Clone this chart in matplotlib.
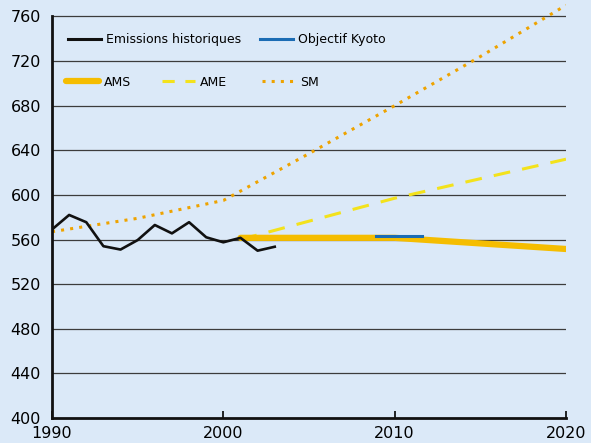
"""
Emissions historiques et projections (AMS / AME / SM) avec l'objectif Kyoto
"""
import matplotlib.pyplot as plt
from matplotlib.lines import Line2D

# donnees
hist_years = [1990, 1991, 1992, 1993, 1994, 1995, 1996, 1997, 1998, 1999,
              2000, 2001, 2002, 2003]
hist_values = [569, 582, 575.5, 554, 551, 559.5, 573, 565.5, 575.5, 562,
               557.5, 561.5, 550, 553.5]

kyoto_years = [2008.9, 2011.6]
kyoto_values = [563, 563]

ams_years = [2001, 2010, 2020]
ams_values = [561.5, 561.5, 551.5]

ame_years = [2001, 2010, 2020]
ame_values = [560, 597, 632]

sm_years = [1990, 1995, 2000, 2005, 2010, 2015, 2020]
sm_values = [567, 579, 595, 637, 680, 724, 770]

y_ticks = [400, 440, 480, 520, 560, 600, 640, 680, 720, 760]
x_ticks = [1990, 2000, 2010, 2020]

BG = '#dbe9f8'
C_HIST = '#111111'
C_KYOTO = '#1b6cb4'
C_AMS = '#f5bd00'
C_AME = '#f3e21c'
C_SM = '#eea300'

W, H = 591, 443
fig = plt.figure(figsize=(W / 100, H / 100), dpi=100, facecolor=BG)
ax = fig.add_axes([52 / W, 25 / H, (566 - 52) / W, (440 - 25) / H])
ax.set_facecolor(BG)

ax.set_xlim(1990, 2020)
ax.set_ylim(400, 772)

for v in y_ticks[1:]:
    ax.axhline(v, color='#3c3c3c', lw=0.9, zorder=1)

ax.plot(ame_years, ame_values, color=C_AME, lw=2.2,
        linestyle=(0, (5.5, 4)), zorder=2)
ax.plot(sm_years, sm_values, color=C_SM, lw=2.2,
        linestyle=(0, (1, 2)), zorder=2)
ax.plot(ams_years, ams_values, color=C_AMS, lw=4.5,
        solid_capstyle='round', zorder=3)
ax.plot(kyoto_years, kyoto_values, color=C_KYOTO, lw=2.2, zorder=4)
ax.plot(hist_years, hist_values, color=C_HIST, lw=1.9, zorder=5)

for s in ['top', 'right']:
    ax.spines[s].set_visible(False)
for s in ['left', 'bottom']:
    ax.spines[s].set_linewidth(2)
    ax.spines[s].set_color('#111111')
ax.spines['left'].set_bounds(400, 760)

ax.set_yticks(y_ticks)
ax.set_xticks(x_ticks)
ax.tick_params(axis='y', length=0, pad=8, labelsize=11.5)
ax.tick_params(axis='x', direction='in', length=5, width=1.2, pad=6,
               labelsize=11.5)


def add_key(handle, label, x_px, y_px):
    leg = fig.legend([handle], [label], loc='center left',
                     bbox_to_anchor=(x_px / W, 1 - y_px / H),
                     bbox_transform=fig.transFigure, frameon=False,
                     borderpad=0, borderaxespad=0, handlelength=2.6,
                     handletextpad=0.45, fontsize=9)
    return leg


add_key(Line2D([], [], color=C_HIST, lw=2.2), 'Emissions historiques', 68, 40)
add_key(Line2D([], [], color=C_KYOTO, lw=2.2), 'Objectif Kyoto', 260, 40)
add_key(Line2D([], [], color=C_AMS, lw=4.5, solid_capstyle='round'),
        'AMS', 66, 82)
add_key(Line2D([], [], color=C_AME, lw=2.2, linestyle=(0, (4, 3.5))),
        'AME', 162, 82)
add_key(Line2D([], [], color=C_SM, lw=2.2, linestyle=(0, (1, 2))),
        'SM', 262, 82)

fig.savefig('out.png', dpi=100, facecolor=BG)
